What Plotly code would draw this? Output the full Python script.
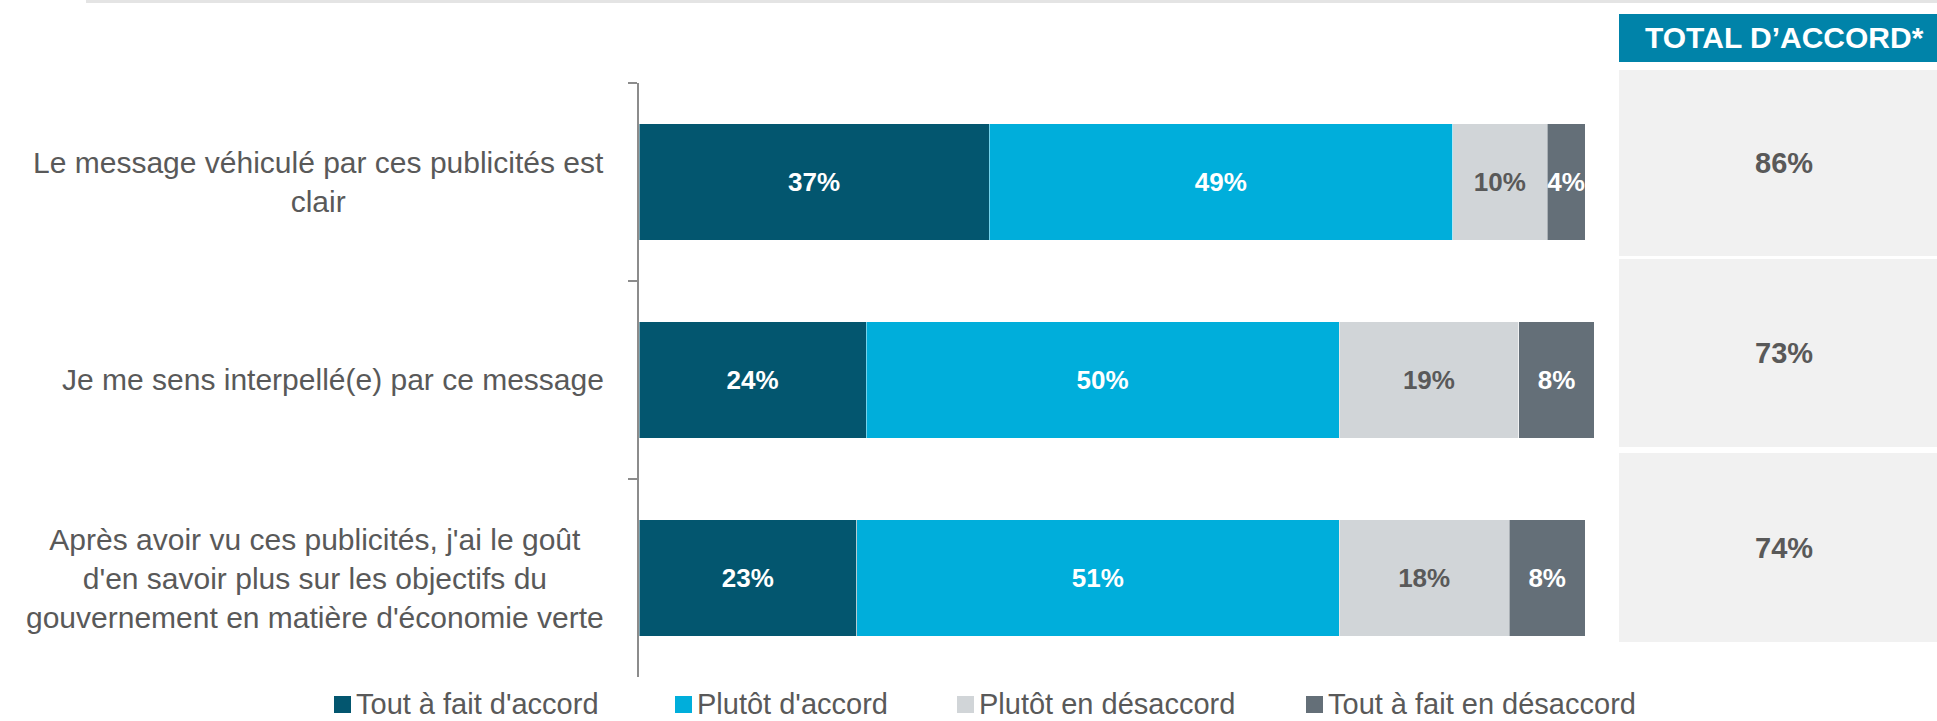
import plotly.graph_objects as go

W, H = 1937, 721

# ---- data -------------------------------------------------------------
statements = [
    "Le message véhiculé par ces publicités est<br>clair",
    "Je me sens interpellé(e) par ce message",
    "Après avoir vu ces publicités, j'ai le goût<br>d'en savoir plus sur les objectifs du<br>gouvernement en matière d'économie verte",
]
series_names = [
    "Tout à fait d'accord",
    "Plutôt d'accord",
    "Plutôt en désaccord",
    "Tout à fait en désaccord",
]
tout_a_fait_accord = [37, 24, 23]
plutot_accord = [49, 50, 51]
plutot_desaccord = [10, 19, 18]
tout_a_fait_desaccord = [4, 8, 8]

total_header = "TOTAL D’ACCORD*"
total_accord = [86, 73, 74]

# ---- styling ----------------------------------------------------------
FONT = "Liberation Sans, Arial, sans-serif"
TEXT_GREY = "#595959"
series_colors = ["#03566F", "#00AEDB", "#D1D5D8", "#646F78"]
label_colors = ["white", "white", TEXT_GREY, "white"]


def px(x):
    return x / W


def py(y):
    return 1 - y / H


series_values = [tout_a_fait_accord, plutot_accord, plutot_desaccord, tout_a_fait_desaccord]

fig = go.Figure()
for name, vals, col, lcol in zip(series_names, series_values, series_colors, label_colors):
    fig.add_trace(go.Bar(
        orientation="h",
        y=statements,
        x=vals,
        name=name,
        marker=dict(color=col, line=dict(color="rgba(255,255,255,0.45)", width=1)),
        texttemplate="%{x}%",
        textposition="inside",
        insidetextanchor="middle",
        textangle=0,
        constraintext="none",
        textfont=dict(family=FONT, size=26, color=lcol, weight="bold"),
        hoverinfo="skip",
    ))

shapes = []
annotations = []

# thin rule across the top
shapes.append(dict(type="line", xref="paper", yref="paper",
                   x0=px(86), x1=1, y0=py(1.5), y1=py(1.5),
                   line=dict(color="#E4E4E4", width=3)))

# statement labels, centred block right-aligned to the axis
for s in statements:
    annotations.append(dict(
        xref="paper", yref="y", x=px(606), y=s, text=s,
        xanchor="right", yanchor="middle", align="center", showarrow=False,
        font=dict(family=FONT, size=30, color=TEXT_GREY),
    ))

# "total d'accord" side panel
shapes.append(dict(type="rect", xref="paper", yref="paper",
                   x0=px(1619), x1=1, y0=py(62), y1=py(14),
                   fillcolor="#0083A9", line=dict(width=0), layer="below"))
annotations.append(dict(
    xref="paper", yref="paper", x=px(1784), y=py(38), text=total_header,
    xanchor="center", yanchor="middle", showarrow=False,
    font=dict(family=FONT, size=30, color="white", weight="bold"),
))
cells = [(70, 256), (259, 447), (453, 642)]
for (top, bot), tot in zip(cells, total_accord):
    shapes.append(dict(type="rect", xref="paper", yref="paper",
                       x0=px(1619), x1=1, y0=py(bot), y1=py(top),
                       fillcolor="#F1F1F1", line=dict(width=0), layer="below"))
    annotations.append(dict(
        xref="paper", yref="paper", x=px(1784), y=py((top + bot) / 2),
        text=f"{tot}%", xanchor="center", yanchor="middle", showarrow=False,
        font=dict(family=FONT, size=29, color=TEXT_GREY, weight="bold"),
    ))

# legend row
legend_x = [334, 675, 957, 1306]
for lx, name, col in zip(legend_x, series_names, series_colors):
    shapes.append(dict(type="rect", xref="paper", yref="paper",
                       x0=px(lx), x1=px(lx + 17), y0=py(713), y1=py(696),
                       fillcolor=col, line=dict(width=0)))
    annotations.append(dict(
        xref="paper", yref="paper", x=px(lx + 21), y=py(704), text=name,
        xanchor="left", yanchor="middle", showarrow=False, borderpad=0,
        font=dict(family=FONT, size=29, color=TEXT_GREY),
    ))

fig.update_layout(
    width=W, height=H,
    margin=dict(l=0, r=0, t=0, b=0),
    paper_bgcolor="white", plot_bgcolor="white",
    barmode="stack", bargap=0.414,
    showlegend=False,
    shapes=shapes, annotations=annotations,
    xaxis=dict(domain=[px(639), px(639 + 9.46 * 101)], range=[0, 101],
               visible=False, fixedrange=True),
    yaxis=dict(domain=[py(677), py(83)], autorange="reversed",
               showline=True, linecolor="#8C8C8C", linewidth=1.5,
               ticks="outside", ticklen=9, tickcolor="#8C8C8C", tickwidth=1.5,
               tickson="boundaries", showticklabels=False, showgrid=False,
               zeroline=False, fixedrange=True),
)

fig.write_html("out.html")
